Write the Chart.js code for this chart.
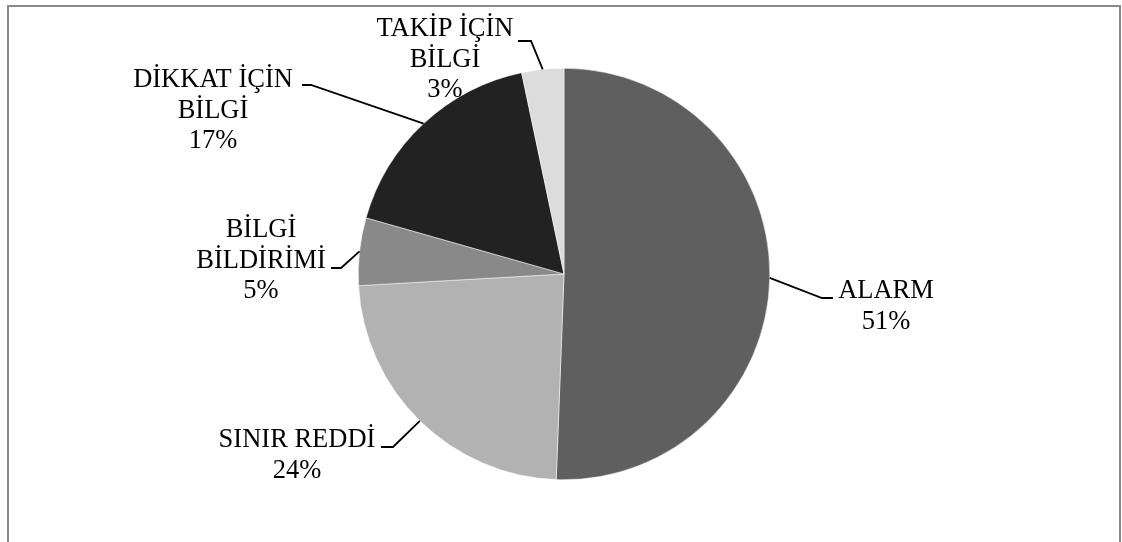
<!DOCTYPE html>
<html lang="tr">

<head>
    <meta charset="UTF-8" />
    <title>Pie chart</title>
    <style>
        body {
            margin: 0;
            background: #fff;
        }

        #wrapper {
            width: 1122px;
            height: 542px;
            position: relative;
        }
    </style>
</head>

<body>
    <div id="wrapper">
        <canvas id="chart"></canvas>
    </div>

    <script src="https://cdn.jsdelivr.net/npm/chart.js@4/dist/chart.umd.min.js"></script>
    <script>
        // data (share of each category, %)
        const categories = ["ALARM", "SINIR REDDİ", "BİLGİ BİLDİRİMİ", "DİKKAT İÇİN BİLGİ", "TAKİP İÇİN BİLGİ"];
        const values = [50.6, 23.5, 5.3, 17.3, 3.3];
        const colors = ["#5f5f5f", "#b2b2b2", "#898989", "#222222", "#dcdcdc"];

        // where each label and its leader line sit, relative to the pie centre
        // split = number of words on the first line
        const labelLayout = [
            { split: 1, elbow: [258, 24], end: 269, textX: 322, baseline: 24 },
            { split: 2, elbow: [-171, 173], end: -183, textX: -267, baseline: 173 },
            { split: 1, elbow: [-223, -6], end: -233, textX: -303, baseline: -37 },
            { split: 2, elbow: [-253, -189], end: -262, textX: -351, baseline: -187 },
            { split: 2, elbow: [-33, -233], end: -46, textX: -119, baseline: -238 }
        ];

        const total = values.reduce((a, b) => a + b, 0);

        const framePlugin = {
            id: "frame",
            beforeDraw(chart) {
                const ctx = chart.ctx;
                ctx.save();
                ctx.fillStyle = "#fff";
                ctx.fillRect(0, 0, chart.width, chart.height);
                ctx.strokeStyle = "#8c8c8c";
                ctx.lineWidth = 2;
                ctx.beginPath();
                ctx.moveTo(8, chart.height + 5);
                ctx.lineTo(8, 6);
                ctx.lineTo(1120, 6);
                ctx.lineTo(1120, chart.height + 5);
                ctx.stroke();
                ctx.restore();
            }
        };

        const leaderLabels = {
            id: "leaderLabels",
            afterDatasetsDraw(chart) {
                const ctx = chart.ctx;
                const arcs = chart.getDatasetMeta(0).data;
                ctx.save();
                ctx.font = '26.5px "Liberation Serif", "Times New Roman", serif';
                ctx.fillStyle = "#000";
                ctx.strokeStyle = "#000";
                ctx.lineWidth = 1.8;
                ctx.textBaseline = "alphabetic";
                ctx.textAlign = "center";
                arcs.forEach((arc, i) => {
                    const p = arc.getProps(["x", "y", "startAngle", "endAngle", "outerRadius"], true);
                    const mid = (p.startAngle + p.endAngle) / 2;
                    const ax = p.x + Math.cos(mid) * p.outerRadius;
                    const ay = p.y + Math.sin(mid) * p.outerRadius;
                    const L = labelLayout[i];
                    const ex = p.x + L.elbow[0];
                    const ey = p.y + L.elbow[1];

                    ctx.beginPath();
                    ctx.moveTo(ax, ay);
                    ctx.lineTo(ex, ey);
                    ctx.lineTo(p.x + L.end, ey);
                    ctx.stroke();

                    const words = categories[i].split(" ");
                    const lines = [words.slice(0, L.split).join(" ")];
                    if (words.length > L.split) lines.push(words.slice(L.split).join(" "));
                    lines.push(Math.round(values[i] / total * 100) + "%");

                    lines.forEach((t, k) => {
                        ctx.fillText(t, p.x + L.textX, p.y + L.baseline + k * 30.5);
                    });
                });
                ctx.restore();
            }
        };

        new Chart("chart", {
            type: "pie",
            data: {
                labels: categories,
                datasets: [{
                    data: values,
                    backgroundColor: colors,
                    borderColor: "#ffffff",
                    borderWidth: 0.5
                }]
            },
            options: {
                responsive: true,
                maintainAspectRatio: false,
                animation: false,
                layout: {
                    padding: { left: 10, right: 4, top: 68, bottom: 62 }
                },
                plugins: {
                    legend: { display: false },
                    tooltip: { enabled: false }
                }
            },
            plugins: [framePlugin, leaderLabels]
        });
    </script>
</body>

</html>
